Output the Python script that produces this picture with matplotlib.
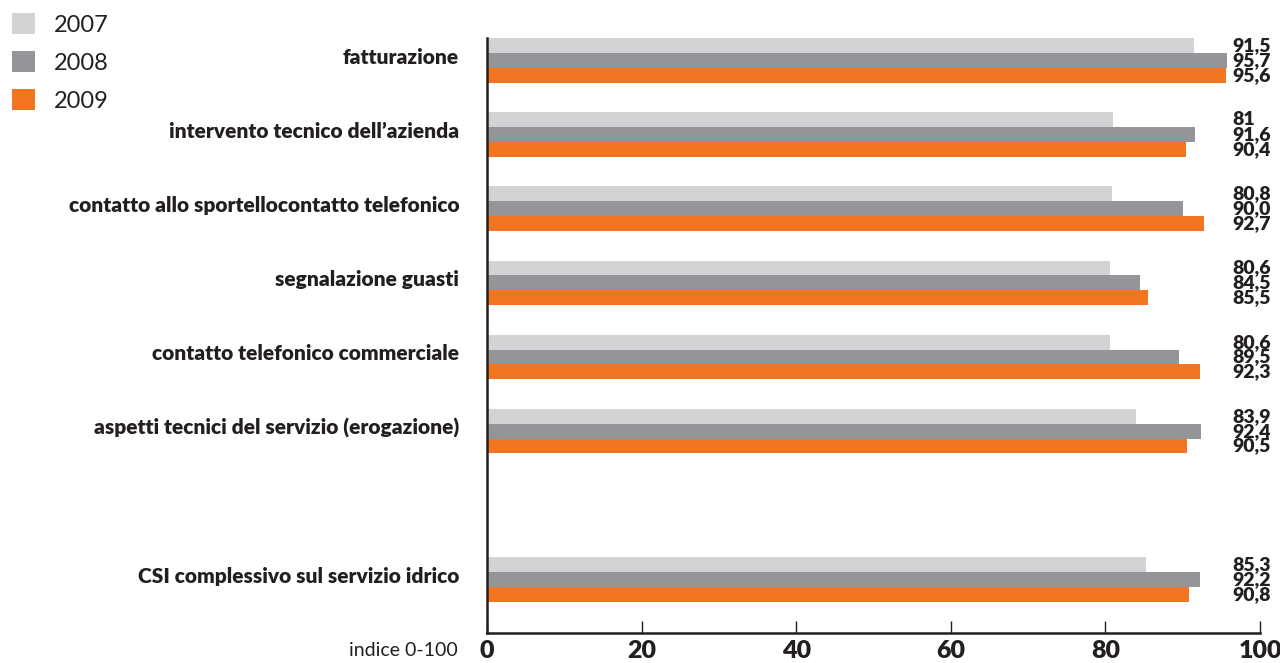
import matplotlib
matplotlib.use("Agg")
import matplotlib.pyplot as plt
import numpy as np

categories = [
    "fatturazione",
    "intervento tecnico dell\u2019azienda",
    "contatto allo sportellocontatto telefonico",
    "segnalazione guasti",
    "contatto telefonico commerciale",
    "aspetti tecnici del servizio (erogazione)",
    "CSI complessivo sul servizio idrico",
]
positions = [0, 1, 2, 3, 4, 5, 7]
years = ["2007", "2008", "2009"]
values_2007 = [91.5, 81.0, 80.8, 80.6, 80.6, 83.9, 85.3]
values_2008 = [95.7, 91.6, 90.0, 84.5, 89.5, 92.4, 92.2]
values_2009 = [95.6, 90.4, 92.7, 85.5, 92.3, 90.5, 90.8]
value_labels_2007 = ["91,5", "81", "80,8", "80,6", "80,6", "83,9", "85,3"]
value_labels_2008 = ["95,7", "91,6", "90,0", "84,5", "89,5", "92,4", "92,2"]
value_labels_2009 = ["95,6", "90,4", "92,7", "85,5", "92,3", "90,5", "90,8"]
x_ticks = [0, 20, 40, 60, 80, 100]

colors = ["#d1d3d4", "#939598", "#f47521"]
text_color = "#231f20"
font = ["Lato", "DejaVu Sans"]

plt.rcParams["font.family"] = font

fig = plt.figure(figsize=(12.8, 6.63), dpi=100)
ax = fig.add_axes([487 / 1280, 30 / 663, (1260 - 487) / 1280, (633 - 38) / 663])

bar_h = 0.2
series = [values_2007, values_2008, values_2009]
labels = [value_labels_2007, value_labels_2008, value_labels_2009]
pos = np.array(positions, dtype=float)
handles = []
for i, (vals, col, yr) in enumerate(zip(series, colors, years)):
    offs = (i - 1) * bar_h
    b = ax.barh(pos + offs, vals, height=bar_h, color=col, label=yr, linewidth=0)
    handles.append(b)
    for p, lab in zip(pos, labels[i]):
        ax.annotate(lab, xy=(1.0, p + offs), xycoords=("axes fraction", "data"),
                    xytext=(-20, 0), textcoords="offset points",
                    ha="left", va="center", fontsize=14, fontweight="heavy",
                    color=text_color, annotation_clip=False)

# category names to the left of each group
for p, cat in zip(pos, categories):
    ax.annotate(cat, xy=(0, p), xycoords=("axes fraction", "data"),
                xytext=(-20, -2.5), textcoords="offset points",
                ha="right", va="baseline", fontsize=15, fontweight="heavy",
                color=text_color, annotation_clip=False)

ax.set_xlim(0, 100)
ax.set_ylim(7.72, -0.3)
ax.set_xticks(x_ticks)
ax.set_xticklabels([str(t) for t in x_ticks], fontsize=18, fontweight="heavy", color=text_color)
ax.set_yticks([])
ax.tick_params(axis="x", direction="in", length=9, width=1, color=text_color, pad=5)

for s in ["top", "right"]:
    ax.spines[s].set_visible(False)
for s in ["left", "bottom"]:
    ax.spines[s].set_color(text_color)
    ax.spines[s].set_linewidth(1.8)

fig.text(458 / 1280, 1 - 651 / 663, "indice 0-100", ha="right", va="center",
         fontsize=14, color=text_color)

fig.legend(handles=handles, labels=years, loc="upper left",
           bbox_to_anchor=(12 / 1280, 1 - 13 / 663), frameon=False,
           fontsize=17, handlelength=0.98, handleheight=0.98,
           handletextpad=0.8, labelspacing=0.66, borderpad=0, borderaxespad=0,
           labelcolor=text_color)

fig.savefig("out.png", dpi=100)
